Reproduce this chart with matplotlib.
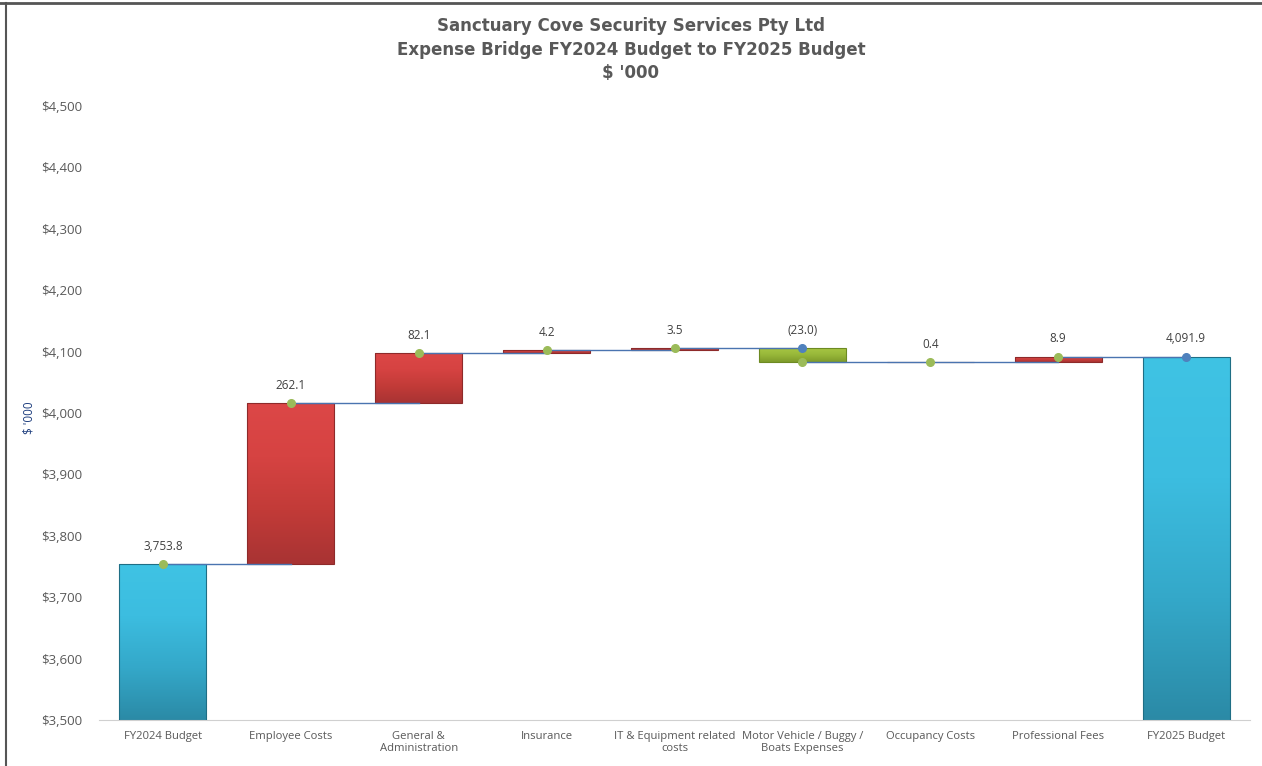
import matplotlib
matplotlib.use("Agg")
import matplotlib.pyplot as plt
import numpy as np
from matplotlib.colors import LinearSegmentedColormap
from matplotlib.patches import Rectangle
from matplotlib.ticker import FuncFormatter, MultipleLocator

categories = ["FY2024 Budget", "Employee Costs", "General &\nAdministration", "Insurance",
              "IT & Equipment related\ncosts", "Motor Vehicle / Buggy /\nBoats Expenses",
              "Occupancy Costs", "Professional Fees", "FY2025 Budget"]
start_total = 3753.8
changes = [262.1, 82.1, 4.2, 3.5, -23.0, 0.4, 8.9]
end_total = 4091.9
labels = ["3,753.8", "262.1", "82.1", "4.2", "3.5", "(23.0)", "0.4", "8.9", "4,091.9"]

W, H = 1262, 766
fig = plt.figure(figsize=(W / 100, H / 100), dpi=100)
ax = fig.add_axes([99 / W, 1 - 720 / H, (1250 - 99) / W, (720 - 106) / H])

ymin, ymax = 3500, 4500
ax.set_ylim(ymin, ymax)
ax.set_xlim(-0.5, len(categories) - 0.5)

cmap_cyan = LinearSegmentedColormap.from_list("c", ["#2b8aa6", "#34a8c9", "#3cbde0", "#3fc3e4"])
cmap_red = LinearSegmentedColormap.from_list("r", ["#a83333", "#c23b38", "#d64342", "#dc4747"])
cmap_green = LinearSegmentedColormap.from_list("g", ["#7e9b2a", "#98b83a", "#a9c844"])

bw = 0.68

def grad_bar(x, y0, y1, cmap, edge):
    lo, hi = min(y0, y1), max(y0, y1)
    rect = Rectangle((x - bw / 2, lo), bw, hi - lo, facecolor="none",
                     edgecolor=edge, linewidth=0.8, zorder=3)
    ax.add_patch(rect)
    grad = np.linspace(0, 1, 256).reshape(-1, 1)
    im = ax.imshow(grad, cmap=cmap, origin="lower", aspect="auto",
                   extent=(x - bw / 2, x + bw / 2, lo, hi), zorder=2)
    im.set_clip_path(rect)

levels = [start_total]
for c in changes:
    levels.append(levels[-1] + c)

grad_bar(0, ymin, start_total, cmap_cyan, "#1f6e85")
for i, c in enumerate(changes, start=1):
    s, e = levels[i - 1], levels[i]
    if c >= 0:
        grad_bar(i, s, e, cmap_red, "#8e2a2a")
    else:
        grad_bar(i, s, e, cmap_green, "#6d8a22")
n = len(categories) - 1
grad_bar(n, ymin, end_total, cmap_cyan, "#1f6e85")

# connector lines
for i in range(len(levels)):
    ax.plot([i, i + 1], [levels[i], levels[i]], color="#4a74b0", lw=1.0, zorder=4)

# markers
ax.plot(range(len(levels)), levels, "o", color="#9bbb59", ms=5.5, zorder=5, linestyle="none")
ax.plot([5], [levels[4]], "o", color="#4f81bd", ms=5.5, zorder=5)
ax.plot([n], [end_total], "o", color="#4f81bd", ms=5.5, zorder=5)

# data labels
label_y = [start_total] + [max(levels[i - 1], levels[i]) for i in range(1, len(levels))] + [end_total]
for i, (ly, t) in enumerate(zip(label_y, labels)):
    ax.annotate(t, (i, ly), xytext=(0, 8), textcoords="offset points",
                ha="center", va="bottom", fontsize=8.5, color="#404040", family="Open Sans")

ax.set_xticks(range(len(categories)))
ax.set_xticklabels(categories, fontsize=8.1, color="#595959", family="Open Sans", linespacing=1.15)
ax.tick_params(axis="x", length=0, pad=8)
ax.yaxis.set_major_locator(MultipleLocator(100))
ax.yaxis.set_major_formatter(FuncFormatter(lambda v, p: f"${v:,.0f}"))
ax.tick_params(axis="y", length=0, pad=12, labelsize=9.5, labelcolor="#595959")
for lab in ax.get_yticklabels():
    lab.set_family("Open Sans")
for s in ["top", "right", "left"]:
    ax.spines[s].set_visible(False)
ax.spines["bottom"].set_color("#d0d0d0")

ax.set_ylabel("$ '000", color="#1f3f7f", fontsize=8.5, family="Open Sans")
ax.yaxis.set_label_coords((35 - 99) / (1250 - 99), (720 - 418) / (720 - 106))

title_kw = dict(ha="center", va="center", fontsize=12, fontweight="bold",
                color="#595959", family="DejaVu Sans")
fig.text(0.5, 1 - 26 / H, "Sanctuary Cove Security Services Pty Ltd", **title_kw)
fig.text(0.5, 1 - 50 / H, "Expense Bridge FY2024 Budget to FY2025 Budget", **title_kw)
fig.text(0.5, 1 - 73 / H, "$ '000", **title_kw)

# frame border
fig.add_artist(plt.Line2D([0, 1], [1 - 3 / H, 1 - 3 / H], color="#555555", lw=2, transform=fig.transFigure))
fig.add_artist(plt.Line2D([6 / W, 6 / W], [0, 1 - 3 / H], color="#555555", lw=1.5, transform=fig.transFigure))

fig.savefig("out.png", dpi=100)
